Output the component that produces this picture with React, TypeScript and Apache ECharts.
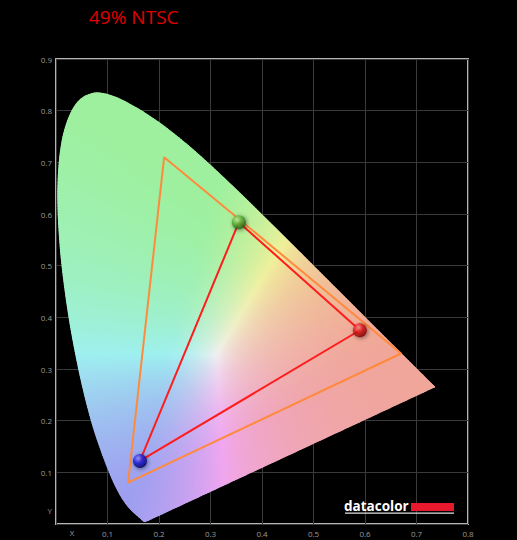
import React, { useEffect, useRef } from "react";
import * as echarts from "echarts";

// CIE 1931 2° spectral locus, 380–700 nm every 5 nm
const LOCUS_X = [
  0.1741, 0.174, 0.1738, 0.1736, 0.1733, 0.173, 0.1726, 0.1721, 0.1714, 0.1703,
  0.1689, 0.1669, 0.1644, 0.1611, 0.1566, 0.151, 0.144, 0.1355, 0.1241, 0.1096,
  0.0913, 0.0687, 0.0454, 0.0235, 0.0082, 0.0039, 0.0139, 0.0389, 0.0743, 0.1142,
  0.1547, 0.1929, 0.2296, 0.2658, 0.3016, 0.3373, 0.3731, 0.4087, 0.4441, 0.4788,
  0.5125, 0.5448, 0.5752, 0.6029, 0.627, 0.6482, 0.6658, 0.6801, 0.6915, 0.7006,
  0.7079, 0.714, 0.719, 0.723, 0.726, 0.7283, 0.73, 0.7311, 0.732, 0.7327,
  0.7334, 0.734, 0.7344, 0.7346, 0.7347,
];
const LOCUS_Y = [
  0.005, 0.005, 0.0049, 0.0049, 0.0048, 0.0048, 0.0048, 0.0048, 0.0051, 0.0058,
  0.0069, 0.0086, 0.0109, 0.0138, 0.0177, 0.0227, 0.0297, 0.0399, 0.0578, 0.0868,
  0.1327, 0.2007, 0.295, 0.4127, 0.5384, 0.6548, 0.7502, 0.812, 0.8338, 0.8262,
  0.8059, 0.7816, 0.7543, 0.7243, 0.6923, 0.6589, 0.6245, 0.5896, 0.5547, 0.5202,
  0.4866, 0.4544, 0.4242, 0.3965, 0.3725, 0.3514, 0.334, 0.3197, 0.3083, 0.2993,
  0.292, 0.2859, 0.2809, 0.277, 0.274, 0.2717, 0.27, 0.2689, 0.268, 0.2673,
  0.2666, 0.266, 0.2656, 0.2654, 0.2653,
];
const WHITE_POINT = [0.3127, 0.329];

// NTSC reference gamut (R, G, B)
const NTSC_X = [0.67, 0.21, 0.14];
const NTSC_Y = [0.33, 0.71, 0.08];

// Measured gamut (R, G, B)
const MEAS_X = [0.59, 0.355, 0.163];
const MEAS_Y = [0.375, 0.584, 0.122];
const MEAS_COLORS = [
  ["#ff9a9a", "#e01818", "#7a0000"],
  ["#c8f0a0", "#5cb83a", "#1e5a10"],
  ["#9a9aff", "#2222dd", "#000060"],
];

const TITLE = "49% NTSC";

function chroma(x: number, y: number): string {
  const X = x / y;
  const Y = 1;
  const Z = (1 - x - y) / y;
  let r = 3.2406 * X - 1.5372 * Y - 0.4986 * Z;
  let g = -0.9689 * X + 1.8758 * Y + 0.0415 * Z;
  let b = 0.0557 * X - 0.204 * Y + 1.057 * Z;
  r = Math.max(r, 0);
  g = Math.max(g, 0);
  b = Math.max(b, 0);
  const m = Math.max(r, g, b, 1e-6);
  const nr = Math.pow(r / m, 1.1);
  const ng = Math.pow(g / m, 1.1);
  const nb = Math.pow(b / m, 1.1);
  // slightly warm the reds toward salmon, as in the reference
  const R = 0.62 + 0.32 * nr;
  const G = 0.62 + 0.32 * ng + 0.03 * nr * (1 - ng);
  const B = 0.62 + 0.32 * nb - 0.02 * nr * (1 - nb);
  const f = (v: number) => Math.round(255 * Math.min(1, v));
  return `rgb(${f(R)},${f(G)},${f(B)})`;
}

function catmull(p0: number[], p1: number[], p2: number[], p3: number[], t: number) {
  const t2 = t * t;
  const t3 = t2 * t;
  return [0, 1].map(
    (k) =>
      0.5 *
      (2 * p1[k] +
        (-p0[k] + p2[k]) * t +
        (2 * p0[k] - 5 * p1[k] + 4 * p2[k] - p3[k]) * t2 +
        (-p0[k] + 3 * p1[k] - 3 * p2[k] + p3[k]) * t3)
  );
}

function boundary(): number[][] {
  const src: number[][] = LOCUS_X.map((x, i) => [x, LOCUS_Y[i]]);
  const n = src.length;
  const pts: number[][] = [];
  for (let i = 0; i < n - 1; i++) {
    const p0 = src[Math.max(i - 1, 0)];
    const p1 = src[i];
    const p2 = src[i + 1];
    const p3 = src[Math.min(i + 2, n - 1)];
    const d = Math.hypot(p2[0] - p1[0], p2[1] - p1[1]);
    if (d < 0.0005) continue;
    const m = Math.max(1, Math.ceil(d / 0.006));
    for (let k = 0; k < m; k++) pts.push(catmull(p0, p1, p2, p3, k / m));
  }
  const last = src[n - 1];
  const first = src[0];
  const d = Math.hypot(first[0] - last[0], first[1] - last[1]);
  const m = Math.ceil(d / 0.006);
  for (let k = 0; k < m; k++) {
    const t = k / m;
    pts.push([last[0] + (first[0] - last[0]) * t, last[1] + (first[1] - last[1]) * t]);
  }
  return pts;
}

export default function App() {
  const ref = useRef<HTMLDivElement>(null);
  useEffect(() => {
    document.body.style.margin = "0";
    document.body.style.background = "#000";
    const chart = echarts.init(ref.current!, undefined, { renderer: "svg" });
    const pts = boundary();
    const STOPS = [0, 0.05, 0.11, 0.18, 0.27, 0.38, 0.5, 0.65, 0.82, 1];

    const renderItem = (_params: any, api: any) => {
      const w = api.coord(WHITE_POINT);
      const under: any[] = [];
      const over: any[] = [];
      const n = pts.length;
      for (let i = 0; i < n; i++) {
        const a = pts[i];
        const b = pts[(i + 1) % n];
        const pa = api.coord(a);
        const pb = api.coord(b);
        const mx = (a[0] + b[0]) / 2;
        const my = (a[1] + b[1]) / 2;
        const pm = api.coord([mx, my]);
        const stops = STOPS.map((t) => ({
          offset: t,
          color: chroma(
            WHITE_POINT[0] + t * (mx - WHITE_POINT[0]),
            WHITE_POINT[1] + t * (my - WHITE_POINT[1])
          ),
        }));
        const grad = new echarts.graphic.LinearGradient(w[0], w[1], pm[0], pm[1], stops, true);
        under.push({
          type: "polygon",
          shape: { points: [w, pa, pb] },
          style: { fill: grad, stroke: grad, lineWidth: 1.2, lineJoin: "round" },
        });
        over.push({
          type: "polygon",
          shape: { points: [w, pa, pb] },
          style: { fill: grad },
        });
      }
      return {
        type: "group",
        children: [
          { type: "group", children: under },
          { type: "group", children: over },
        ],
      };
    };

    const ntsc = NTSC_X.map((x, i) => [x, NTSC_Y[i]]);
    ntsc.push(ntsc[0]);
    const meas = MEAS_X.map((x, i) => [x, MEAS_Y[i]]);
    meas.push(meas[0]);

    const option: any = {
      animation: false,
      backgroundColor: "#000",
      grid: {
        left: 56,
        right: 49,
        top: 59,
        bottom: 16,
        show: true,
        borderColor: "#b4b4b4",
        borderWidth: 2,
        backgroundColor: "#000",
      },
      xAxis: {
        type: "value",
        min: 0,
        max: 0.8,
        interval: 0.1,
        axisLine: { show: false },
        axisTick: { show: false },
        splitLine: { lineStyle: { color: "#3a3a3a", width: 1 } },
        axisLabel: {
          color: "#9a9a9a",
          fontSize: 8,
          margin: 5,
          fontFamily: "Open Sans",
          showMaxLabel: true,
          formatter: (v: number) => (v === 0 ? "" : v.toFixed(1)),
        },
      },
      yAxis: {
        type: "value",
        min: 0,
        max: 0.9,
        interval: 0.1,
        axisLine: { show: false },
        axisTick: { show: false },
        splitLine: { lineStyle: { color: "#3a3a3a", width: 1 } },
        axisLabel: {
          color: "#9a9a9a",
          fontSize: 8,
          margin: 4,
          fontFamily: "Open Sans",
          showMaxLabel: true,
          formatter: (v: number) => (v === 0 ? "" : v.toFixed(1)),
        },
      },
      series: [
        {
          type: "custom",
          renderItem,
          data: [0],
          z: 2,
          silent: true,
        },
        {
          type: "line",
          data: ntsc,
          symbol: "none",
          lineStyle: { color: "#ff8a3d", width: 2 },
          z: 3,
          silent: true,
        },
        {
          type: "line",
          data: meas,
          symbol: "none",
          lineStyle: { color: "#ff1c1c", width: 2 },
          z: 4,
          silent: true,
        },
        {
          type: "scatter",
          z: 5,
          symbolSize: 14,
          silent: true,
          data: meas.slice(0, 3).map((p, i) => ({
            value: p,
            itemStyle: {
              color: new echarts.graphic.RadialGradient(0.38, 0.32, 0.7, [
                { offset: 0, color: MEAS_COLORS[i][0] },
                { offset: 0.45, color: MEAS_COLORS[i][1] },
                { offset: 1, color: MEAS_COLORS[i][2] },
              ]),
              shadowBlur: 4,
              shadowColor: "rgba(0,0,0,0.6)",
              shadowOffsetX: 1,
              shadowOffsetY: 1,
            },
          })),
        },
      ],
      graphic: [
        {
          type: "text",
          left: 89,
          top: 7,
          style: {
            text: TITLE,
            fill: "#e00000",
            font: "19px 'Open Sans'",
          },
        },
        {
          type: "text",
          x: 72,
          y: 532,
          style: {
            text: "X",
            fill: "#9a9a9a",
            font: "8px 'Open Sans'",
            align: "center",
            verticalAlign: "middle",
          },
        },
        {
          type: "text",
          x: 52,
          y: 510,
          style: {
            text: "Y",
            fill: "#9a9a9a",
            font: "8px 'Open Sans'",
            align: "right",
            verticalAlign: "middle",
          },
        },
        {
          type: "text",
          x: 344,
          y: 506,
          z: 10,
          style: {
            text: "datacolor",
            fill: "#ffffff",
            font: "bold 13.5px 'Open Sans'",
            align: "left",
            verticalAlign: "middle",
          },
        },
        {
          type: "rect",
          z: 10,
          shape: { x: 411, y: 503, width: 43, height: 8 },
          style: { fill: "#e8192c" },
        },
        {
          type: "rect",
          z: 10,
          shape: { x: 345, y: 512.5, width: 109, height: 1.2 },
          style: { fill: "#e0e0e0" },
        },
      ],
    };
    chart.setOption(option);
    return () => chart.dispose();
  }, []);
  return (
    <div
      ref={ref}
      style={{ position: "absolute", left: 0, top: 0, width: 517, height: 540, background: "#000" }}
    />
  );
}
